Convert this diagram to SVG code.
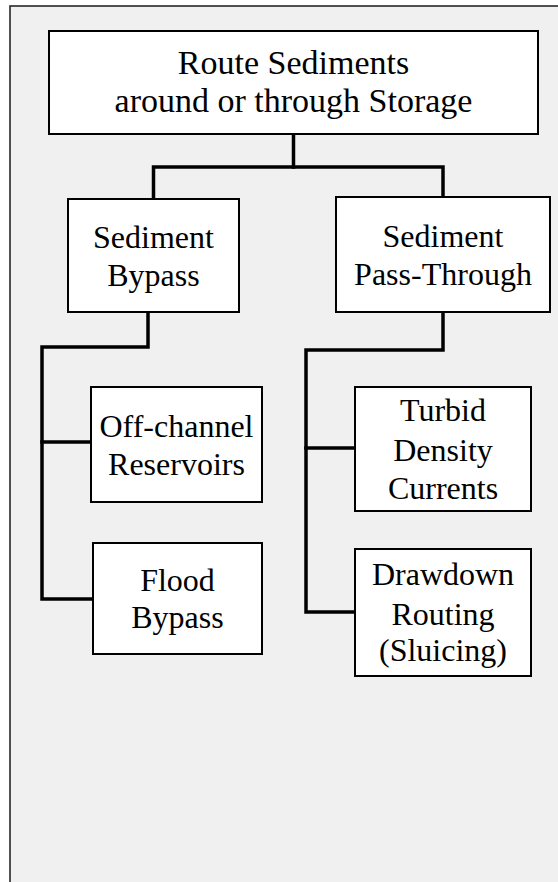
<svg xmlns="http://www.w3.org/2000/svg" width="558" height="882" viewBox="0 0 558 882">
  <style>
    .node rect { fill: #ffffff; stroke: #000000; stroke-width: 2; }
    .node text { font-family: "Liberation Serif", "Times New Roman", serif; font-size: 32px; fill: #000000; text-anchor: middle; }
    #n-root text { font-size: 34px; }
    .link { fill: none; stroke: #000000; stroke-width: 3.5; stroke-linejoin: miter; stroke-linecap: square; }
  </style>

  <!-- page background and panel -->
  <rect x="0" y="0" width="558" height="882" fill="#ffffff"/>
  <rect id="panel" x="10" y="6" width="570" height="900" fill="#f0f0f0" stroke="#1a1a1a" stroke-width="1.5"/>

  <!-- connectors -->
  <g id="connectors">
    <path class="link" d="M293.5 135 V167"/>
    <path class="link" d="M153.5 198 V167 H443 V196"/>
    <path class="link" d="M148 313 V347 H42 V599 H92"/>
    <path class="link" d="M42 442 H90"/>
    <path class="link" d="M443 313 V350 H306 V612 H354"/>
    <path class="link" d="M306 448 H354"/>
  </g>

  <!-- nodes -->
  <g id="n-root" class="node">
    <rect x="49" y="31" width="489" height="103"/>
    <text x="293.5" y="74">Route Sediments</text>
    <text x="293.5" y="112">around or through Storage</text>
  </g>

  <g id="n-bypass" class="node">
    <rect x="68" y="199" width="171" height="113"/>
    <text x="153.5" y="248">Sediment</text>
    <text x="153.5" y="286">Bypass</text>
  </g>

  <g id="n-passthrough" class="node">
    <rect x="336" y="197" width="214" height="115"/>
    <text x="443" y="247">Sediment</text>
    <text x="443" y="285">Pass-Through</text>
  </g>

  <g id="n-offchannel" class="node">
    <rect x="91" y="387" width="171" height="115"/>
    <text x="176.5" y="437">Off-channel</text>
    <text x="176.5" y="475">Reservoirs</text>
  </g>

  <g id="n-flood" class="node">
    <rect x="93" y="543" width="169" height="111"/>
    <text x="177.5" y="591">Flood</text>
    <text x="177.5" y="628">Bypass</text>
  </g>

  <g id="n-turbid" class="node">
    <rect x="355" y="387" width="176" height="124"/>
    <text x="443" y="421">Turbid</text>
    <text x="443" y="461">Density</text>
    <text x="443" y="499">Currents</text>
  </g>

  <g id="n-drawdown" class="node">
    <rect x="355" y="549" width="176" height="127"/>
    <text x="443" y="585">Drawdown</text>
    <text x="443" y="625">Routing</text>
    <text x="443" y="661">(Sluicing)</text>
  </g>
</svg>
